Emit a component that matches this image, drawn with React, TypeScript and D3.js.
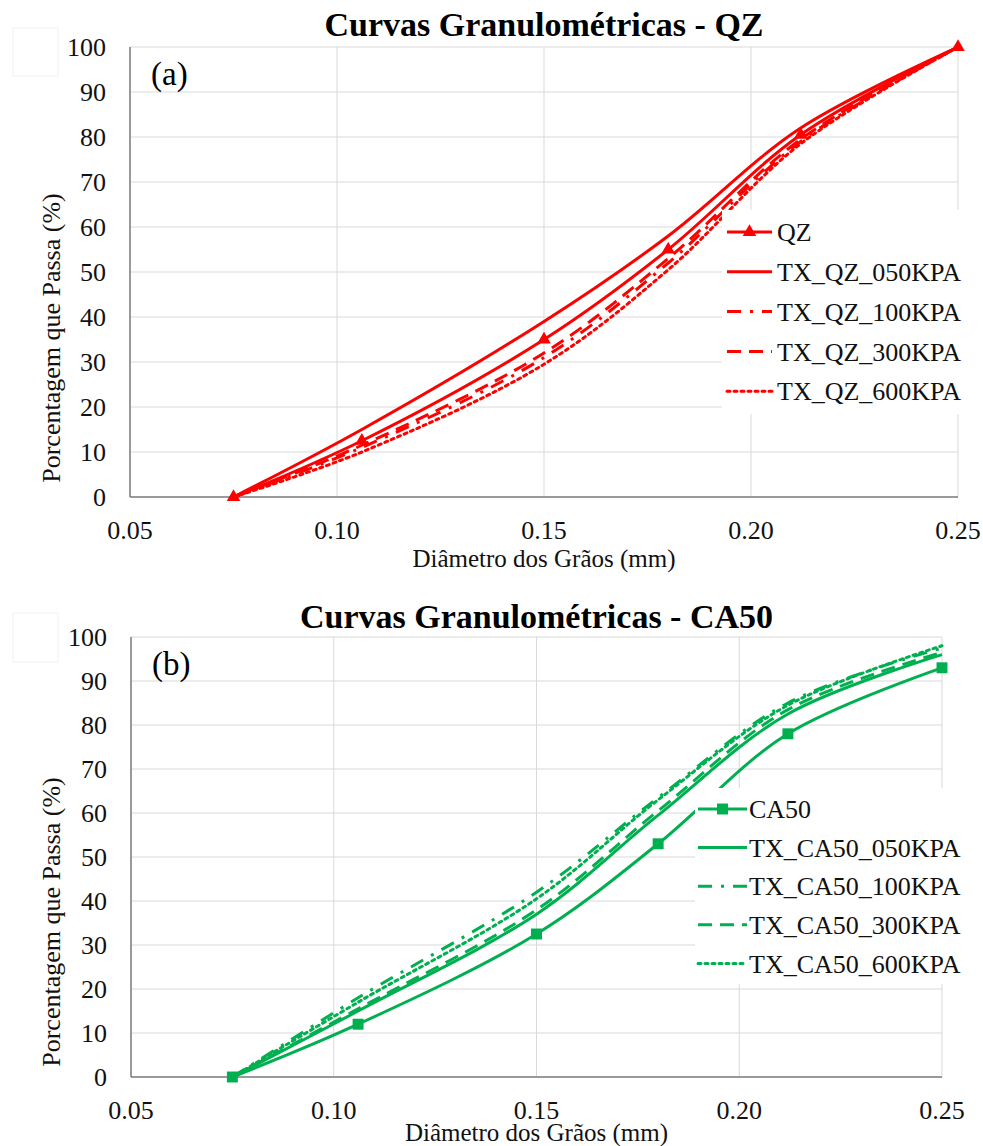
import React from "react";
import * as d3 from "d3";

// ---------- DATA ----------
const sieves = [0.075, 0.106, 0.15, 0.18, 0.212, 0.25];

const qzNames = ["QZ", "TX_QZ_050KPA", "TX_QZ_100KPA", "TX_QZ_300KPA", "TX_QZ_600KPA"];
const qz = [0, 12.5, 35, 55, 80.5, 100];
const txQz050 = [0, 15, 39, 58, 82, 100];
const txQz100 = [0, 11, 31, 52, 79, 100];
const txQz300 = [0, 11.5, 32, 53, 79.5, 100];
const txQz600 = [0, 10, 29.5, 50.5, 78.5, 100];

const caNames = ["CA50", "TX_CA50_050KPA", "TX_CA50_100KPA", "TX_CA50_300KPA", "TX_CA50_600KPA"];
const ca50 = [0, 12, 32.5, 53, 78, 93];
const txCa050 = [0, 15, 37, 59.5, 82.5, 96];
const txCa100 = [0, 18, 42, 63.5, 85, 97.5];
const txCa300 = [0, 15.5, 38, 60.5, 83.5, 96.5];
const txCa600 = [0, 17, 40.5, 63, 84.5, 98];

const xTicks = [0.05, 0.1, 0.15, 0.2, 0.25];
const yTicks = [0, 10, 20, 30, 40, 50, 60, 70, 80, 90, 100];

// ---------- STYLE ----------
const FONT = "Liberation Serif, DejaVu Serif, serif";
const dashes = [null, null, "14 9 3 9", "14 8", "3 4"];

type Panel = {
  title: string;
  tag: string;
  color: string;
  names: string[];
  series: number[][];
  marker: "triangle" | "square";
  left: number; right: number; top: number; bottom: number;
  titleY: number;
  xTitleY: number;
  yTitleX: number; yTitleY: number;
  legend: { x: number; y: number; w: number; h: number; y0: number; dy: number; lx0: number; lx1: number; tx: number };
  ghost: { x: number; y: number; w: number; h: number };
};

const panels: Panel[] = [
  {
    title: "Curvas Granulométricas - QZ",
    tag: "(a)",
    color: "#ff0000",
    names: qzNames,
    series: [qz, txQz050, txQz100, txQz300, txQz600],
    marker: "triangle",
    left: 130, right: 958, top: 47, bottom: 497,
    titleY: 36,
    xTitleY: 567,
    yTitleX: 60, yTitleY: 338,
    legend: { x: 722, y: 210, w: 261, h: 204, y0: 232, dy: 39.8, lx0: 727, lx1: 772, tx: 777 },
    ghost: { x: 13, y: 28, w: 45, h: 48 },
  },
  {
    title: "Curvas Granulométricas - CA50",
    tag: "(b)",
    color: "#00b050",
    names: caNames,
    series: [ca50, txCa050, txCa100, txCa300, txCa600],
    marker: "square",
    left: 131, right: 942, top: 637, bottom: 1077,
    titleY: 628,
    xTitleY: 1141,
    yTitleX: 60, yTitleY: 922,
    legend: { x: 695, y: 788, w: 288, h: 196, y0: 809, dy: 38.6, lx0: 698, lx1: 747, tx: 749 },
    ghost: { x: 13, y: 613, w: 45, h: 49 },
  },
];

function ChartPanel({ p }: { p: Panel }) {
  const x = d3.scaleLinear().domain([0.05, 0.25]).range([p.left, p.right]);
  const y = d3.scaleLinear().domain([0, 100]).range([p.bottom, p.top]);
  const line = d3
    .line<number>()
    .x((_, i) => x(sieves[i]))
    .y((v) => y(v))
    .curve(d3.curveCatmullRom.alpha(0.5));
  const sym = d3
    .symbol()
    .type(p.marker === "triangle" ? d3.symbolTriangle : d3.symbolSquare)
    .size(p.marker === "triangle" ? 80 : 120);
  const symPath = sym() as string;
  const cx = (p.left + p.right) / 2;

  return (
    <g>
      <rect x={p.ghost.x} y={p.ghost.y} width={p.ghost.w} height={p.ghost.h} fill="none" stroke="#f2f2f2" strokeWidth={1} />
      {yTicks.map((t) => (
        <line key={"gy" + t} x1={p.left} x2={p.right} y1={y(t)} y2={y(t)} stroke="#d9d9d9" strokeWidth={1} />
      ))}
      {xTicks.map((t) => (
        <line key={"gx" + t} x1={x(t)} x2={x(t)} y1={p.top} y2={p.bottom} stroke="#d9d9d9" strokeWidth={1} />
      ))}
      <line x1={p.left} x2={p.left} y1={p.top} y2={p.bottom} stroke="#7f7f7f" strokeWidth={1.5} />
      <line x1={p.left} x2={p.right} y1={p.bottom} y2={p.bottom} stroke="#7f7f7f" strokeWidth={1.5} />
      {yTicks.map((t) => (
        <text key={"ty" + t} x={p.left - 24} y={y(t)} dy="0.35em" textAnchor="end" style={{ fontFamily: FONT }} fontSize={26} fill="#111">
          {t}
        </text>
      ))}
      {xTicks.map((t) => (
        <text key={"tx" + t} x={x(t)} y={p.bottom + 42} textAnchor="middle" style={{ fontFamily: FONT }} fontSize={26} fill="#111">
          {d3.format(".2f")(t)}
        </text>
      ))}
      <text x={cx} y={p.titleY} textAnchor="middle" style={{ fontFamily: FONT }} fontWeight="bold" fontSize={34} fill="#000">
        {p.title}
      </text>
      <text x={cx} y={p.xTitleY} textAnchor="middle" style={{ fontFamily: FONT }} fontSize={25} fill="#111">
        Diâmetro dos Grãos (mm)
      </text>
      <text
        transform={`translate(${p.yTitleX},${p.yTitleY}) rotate(-90)`}
        textAnchor="middle"
        style={{ fontFamily: FONT }}
        fontSize={26}
        fill="#111"
      >
        Porcentagem que Passa (%)
      </text>
      <text x={p.left + 21} y={p.top + 38} style={{ fontFamily: FONT }} fontSize={33} fill="#000">
        {p.tag}
      </text>
      {p.series.map((s, si) => (
        <g key={"s" + si}>
          <path
            d={line(s) as string}
            fill="none"
            stroke={p.color}
            strokeWidth={3}
            strokeDasharray={dashes[si] ?? undefined}
            strokeLinecap={si === 4 ? "round" : "butt"}
          />
          {si === 0 &&
            s.map((v, i) => (
              <path key={"m" + i} d={symPath} transform={`translate(${x(sieves[i])},${y(v)})`} fill={p.color} />
            ))}
        </g>
      ))}
      <rect x={p.legend.x} y={p.legend.y} width={p.legend.w} height={p.legend.h} fill="#ffffff" />
      {p.names.map((n, i) => {
        const ly = p.legend.y0 + i * p.legend.dy;
        return (
          <g key={"l" + i}>
            <line
              x1={p.legend.lx0}
              x2={p.legend.lx1}
              y1={ly}
              y2={ly}
              stroke={p.color}
              strokeWidth={3}
              strokeDasharray={dashes[i] ?? undefined}
              strokeLinecap={i === 4 ? "round" : "butt"}
            />
            {i === 0 && (
              <path d={symPath} transform={`translate(${(p.legend.lx0 + p.legend.lx1) / 2},${ly})`} fill={p.color} />
            )}
            <text x={p.legend.tx} y={ly} dy="0.35em" style={{ fontFamily: FONT }} fontSize={26} fill="#111">
              {n}
            </text>
          </g>
        );
      })}
    </g>
  );
}

export default function App() {
  return (
    <div style={{ position: "absolute", left: 0, top: 0 }}>
      <svg width={983} height={1146} viewBox="0 0 983 1146" style={{ display: "block", background: "#fff", fontFamily: FONT }}>
        <rect x={0} y={0} width={983} height={1146} fill="#fff" />
        {panels.map((p, i) => (
          <ChartPanel key={i} p={p} />
        ))}
      </svg>
    </div>
  );
}
